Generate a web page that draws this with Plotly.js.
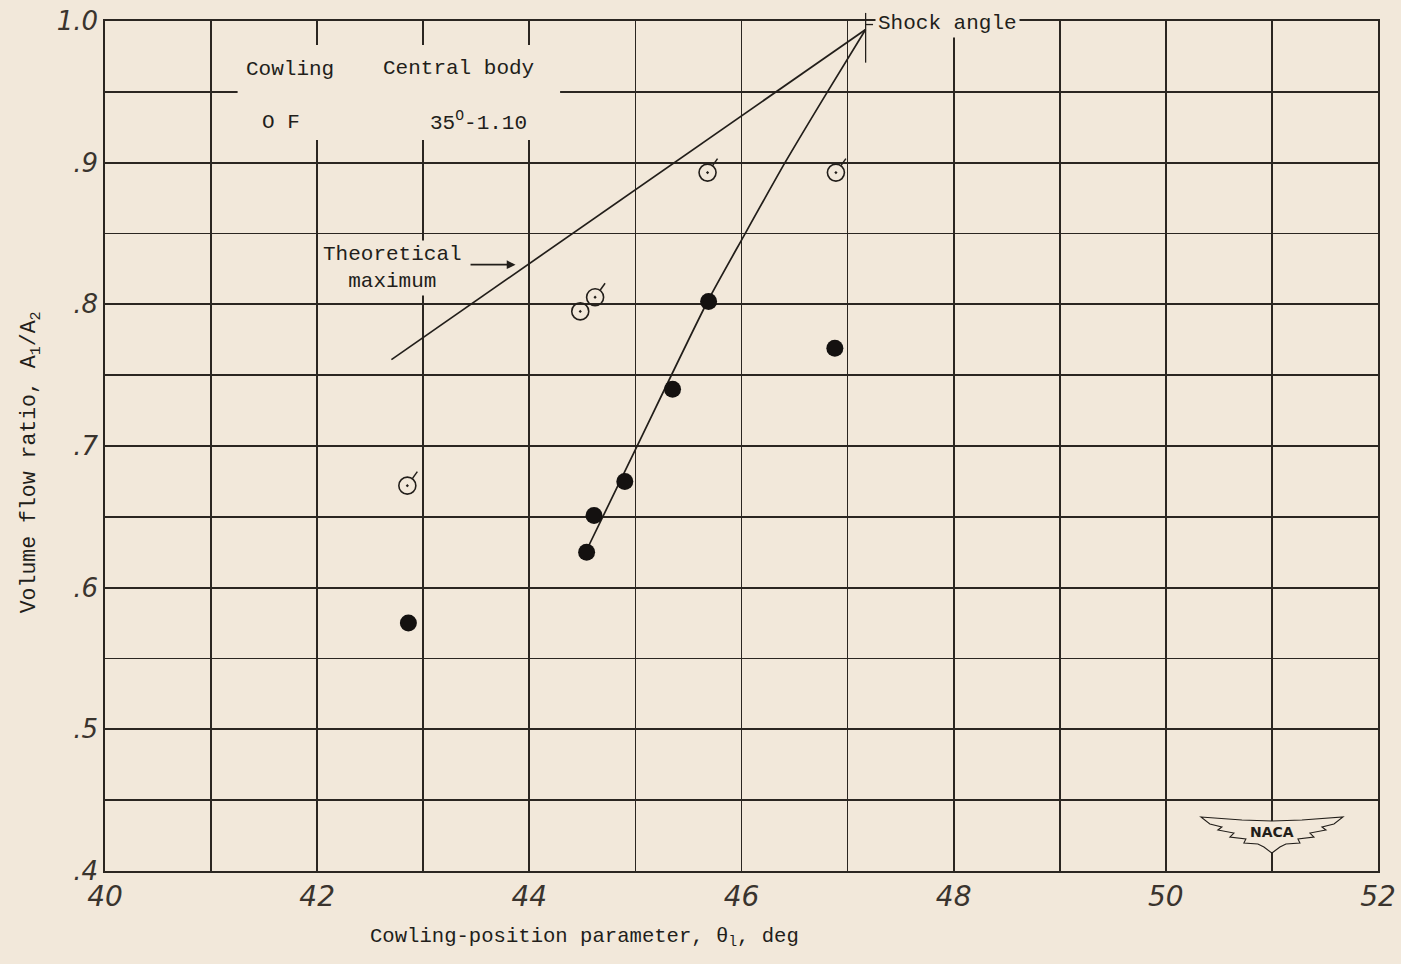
<!DOCTYPE html>
<html>
<head>
<meta charset="utf-8">
<script src="https://cdn.plot.ly/plotly-3.0.1.min.js"></script>
<style>
  html, body { margin: 0; padding: 0; background: #f2e8da; }
  #chart { width: 1401px; height: 964px; }
</style>
</head>
<body>
<div id="chart"></div>
<script>
// ---- data ----
const openX   = [42.85, 44.48, 44.62, 45.68, 46.89];
const openY   = [0.672, 0.795, 0.805, 0.893, 0.893];
const openTail = [true, false, true, true, true];

const filledX = [42.86, 44.54, 44.61, 44.90, 45.35, 45.69, 46.88];
const filledY = [0.575, 0.625, 0.651, 0.675, 0.740, 0.802, 0.769];

const theoX = [42.70, 47.17];
const theoY = [0.761, 0.994];

const shockX = [44.53, 45.01, 45.68, 46.02, 46.41, 46.81, 47.17];
const shockY = [0.625, 0.699, 0.802, 0.848, 0.900, 0.950, 0.994];

const xTickVals = [40, 42, 44, 46, 48, 50, 52];
const xTickText = ['40', '42', '44', '46', '48', '50', '52'];
const yTickVals = [0.4, 0.5, 0.6, 0.7, 0.8, 0.9, 1.0];
const yTickText = ['.4', '.5', '.6', '.7', '.8', '.9', '1.0'];

// ---- style ----
const PAPER = '#f2e8da';
const INK = '#221e1a';
const TYPE = 'Liberation Mono, Courier New, monospace';
const HAND = 'DejaVu Sans, sans-serif';

const traces = [
  {
    x: theoX, y: theoY, mode: 'lines', type: 'scatter',
    line: { color: INK, width: 1.7 }, hoverinfo: 'skip', showlegend: false
  },
  {
    x: shockX, y: shockY, mode: 'lines', type: 'scatter',
    line: { color: INK, width: 1.7, shape: 'spline', smoothing: 0.6 },
    hoverinfo: 'skip', showlegend: false
  },
  {
    x: openX, y: openY, mode: 'markers', type: 'scatter',
    marker: { symbol: 'circle-open-dot', size: 17, color: INK, line: { color: INK, width: 1.6 } },
    showlegend: false
  },
  {
    x: filledX, y: filledY, mode: 'markers', type: 'scatter',
    marker: { symbol: 'circle', size: 17, color: '#141110' },
    showlegend: false
  }
];

const shapes = [];
// flag tails on open symbols (pixel-sized, anchored at each data point)
openX.forEach((x, i) => {
  if (!openTail[i]) return;
  shapes.push({
    type: 'line', xref: 'x', yref: 'y',
    xsizemode: 'pixel', ysizemode: 'pixel', xanchor: x, yanchor: openY[i],
    x0: 5, x1: 10, y0: 7, y1: 14,
    line: { color: INK, width: 1.5 }, layer: 'above'
  });
});

const txt = (text, x, y, opts) => Object.assign({
  text: text, x: x, y: y, xref: 'x', yref: 'y', showarrow: false,
  font: { family: TYPE, size: 21, color: INK },
  bgcolor: PAPER, borderpad: 3
}, opts || {});

const annotations = [
  txt('Cowling', 41.74, 0.9655),
  txt('Central body', 43.33, 0.9662),
  txt('O F', 41.66, 0.9285),
  txt('35<sup>O</sup>-1.10', 43.52, 0.929),
  txt('Theoretical<br>maximum', 42.71, 0.826, { borderpad: 2 }),
  txt('Shock angle', 47.26, 0.9985, { xanchor: 'left', borderpad: 2 }),
  // arrow pointing at the theoretical maximum line
  {
    x: 43.87, y: 0.828, xref: 'x', yref: 'y', text: ' ',
    showarrow: true, arrowhead: 2, arrowsize: 1.1, arrowwidth: 1.6, arrowcolor: INK,
    ax: -48, ay: 0, standoff: 0
  },
  // NACA logo text
  {
    text: '<b>NACA</b>', x: 51.0, y: 0.4275, xref: 'x', yref: 'y', showarrow: false,
    font: { family: 'DejaVu Sans, sans-serif', size: 14, color: INK }
  },
  // axis titles
  {
    text: 'Volume flow ratio, A<sub>1</sub>/A<sub>2</sub>', xref: 'paper', yref: 'paper',
    x: -0.058, y: 0.481, xanchor: 'center', yanchor: 'middle', textangle: -90, showarrow: false,
    font: { family: TYPE, size: 21.5, color: INK }
  },
  {
    text: 'Cowling-position parameter, θ<sub>l</sub>, deg', xref: 'paper', yref: 'paper',
    x: 0.377, y: -0.078, xanchor: 'center', yanchor: 'middle', showarrow: false,
    font: { family: TYPE, size: 20.6, color: INK }
  }
];

// NACA wing outline (decorative), built around a centre point in data units
const cx = 51.0, cy = 0.4275;
const px = (dx) => cx + dx / 106;
const py = (dy) => cy - dy / 1416.7;
const wing = [
  [-71, -15], [-30, -12], [0, -11], [30, -12], [71, -15], [62, -8], [50, -5], [54, -2],
  [38, 1], [42, 5], [26, 7], [28, 11], [14, 12], [8, 15], [0, 21], [-8, 15], [-14, 12],
  [-28, 11], [-26, 7], [-42, 5], [-38, 1], [-54, -2], [-50, -5], [-62, -8]
];
const wingPath = 'M ' + wing.map(p => px(p[0]).toFixed(4) + ',' + py(p[1]).toFixed(5)).join(' L ') + ' Z';

shapes.push(
  // mask behind legend block
  { type: 'rect', xref: 'x', yref: 'y', x0: 41.25, x1: 44.29, y0: 0.916, y1: 0.983,
    fillcolor: PAPER, line: { width: 0 }, layer: 'above' },
  // logo
  { type: 'path', xref: 'x', yref: 'y', path: wingPath, fillcolor: PAPER,
    line: { color: INK, width: 1.1 }, layer: 'above' },
  // shock-angle tick at apex
  { type: 'line', xref: 'x', yref: 'paper', x0: 47.17, x1: 47.17, y0: 0.951, y1: 1.0095,
    line: { color: INK, width: 1.3 }, layer: 'above' },
  { type: 'line', xref: 'x', yref: 'y', x0: 47.17, x1: 47.24, y0: 0.9975, y1: 0.9975,
    line: { color: INK, width: 1.3 }, layer: 'above' }
);

const gridCol = '#2b2621';
const layout = {
  width: 1401, height: 964,
  paper_bgcolor: PAPER, plot_bgcolor: PAPER,
  margin: { l: 105, r: 23, t: 21, b: 93 },
  showlegend: false,
  xaxis: {
    range: [40, 52], tickmode: 'array', tickvals: xTickVals, ticktext: xTickText,
    showgrid: true, gridcolor: gridCol, gridwidth: 1.7,
    minor: { dtick: 1, tick0: 40, showgrid: true, gridcolor: gridCol, gridwidth: 1.7 },
    showline: true, linecolor: gridCol, linewidth: 1.8, mirror: true,
    zeroline: false, ticks: '', ticklabelstandoff: 0,
    tickfont: { family: HAND, size: 28, color: '#3a342e', style: 'italic', weight: 300 }
  },
  yaxis: {
    range: [0.4, 1.0], tickmode: 'array', tickvals: yTickVals, ticktext: yTickText,
    showgrid: true, gridcolor: gridCol, gridwidth: 1.7,
    minor: { dtick: 0.05, tick0: 0.4, showgrid: true, gridcolor: gridCol, gridwidth: 1.7 },
    showline: true, linecolor: gridCol, linewidth: 1.8, mirror: true,
    zeroline: false, ticks: '', ticklabelstandoff: 0,
    tickfont: { family: HAND, size: 26, color: '#3a342e', style: 'italic', weight: 300 }
  },
  annotations: annotations,
  shapes: shapes
};

Plotly.newPlot('chart', traces, layout, { displayModeBar: false, staticPlot: true });
</script>
</body>
</html>
